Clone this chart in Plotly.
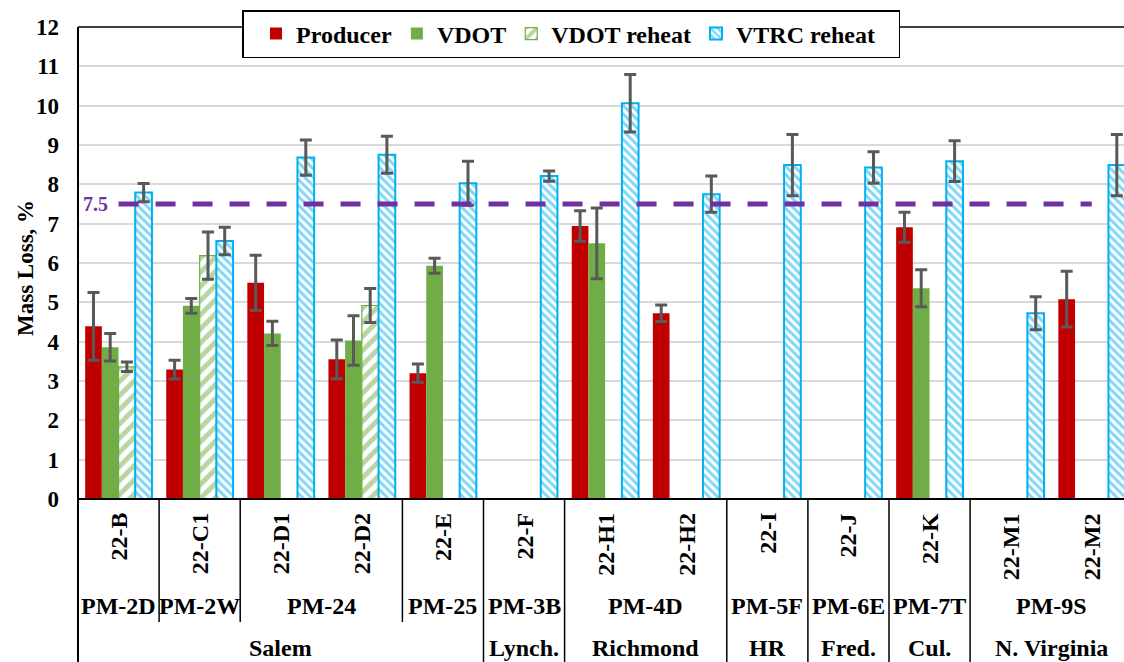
import plotly.graph_objects as go

# ---- data -------------------------------------------------------------
categories = ["22-B", "22-C1", "22-D1", "22-D2", "22-E", "22-F", "22-H1",
              "22-H2", "22-I", "22-J", "22-K", "22-M1", "22-M2"]
plant_labels = ["PM-2D", "PM-2W", "PM-24", "PM-25", "PM-3B", "PM-4D",
                "PM-5F", "PM-6E", "PM-7T", "PM-9S"]
plant_sizes = [1, 1, 2, 1, 1, 2, 1, 1, 1, 2]
region_labels = ["Salem", "Lynch.", "Richmond", "HR", "Fred.", "Cul.", "N. Virginia"]
region_sizes = [5, 1, 2, 1, 1, 1, 2]

producer = [4.39, 3.29, 5.50, 3.55, 3.20, None, 6.94, 4.72, None, None, 6.91, None, 5.08]
producer_err = [0.86, 0.24, 0.70, 0.49, 0.23, None, 0.39, 0.21, None, None, 0.38, None, 0.71]

vdot = [3.86, 4.91, 4.21, 4.03, 5.93, None, 6.50, None, None, None, 5.36, None, None]
vdot_err = [0.35, 0.19, 0.31, 0.63, 0.19, None, 0.90, None, None, None, 0.47, None, None]

vdot_reheat = [3.36, 6.19, None, 4.92, None, None, None, None, None, None, None, None, None]
vdot_reheat_err = [0.12, 0.60, None, 0.43, None, None, None, None, None, None, None, None, None]

vtrc_reheat = [7.79, 6.56, 8.68, 8.75, 8.03, 8.21, 10.06, 7.75, 8.49, 8.43, 8.59, 4.72, 8.49]
vtrc_reheat_err = [0.23, 0.35, 0.45, 0.47, 0.56, 0.13, 0.73, 0.46, 0.78, 0.40, 0.52, 0.42, 0.78]

threshold = 7.5

# ---- style ------------------------------------------------------------
FONT = "Liberation Serif"
RED = "#C00000"
GREEN = "#70AD47"
BLUE = "#00B0F0"
PURPLE = "#7030A0"
ERR = "#595959"
GRID = "#D9D9D9"

W, H = 1124, 662
ML, MT, MB, MR = 78, 27, 163, 0
PLOT_H = H - MT - MB
CAT_W = 81.1                      # px per category
X_MAX = -0.5 + (W - ML - MR) / CAT_W
NBSP = "\u00a0"


def paper_y(px):
    """Pixel row (from top of figure) -> paper y coordinate."""
    return (H - MB - px) / PLOT_H


def err(values):
    return dict(type="data", array=[v if v is not None else 0 for v in values],
                color=ERR, thickness=3, width=6, visible=True)


xs = list(range(len(categories)))

fig = go.Figure()
fig.add_trace(go.Bar(x=xs, y=producer, name="Producer",
                     marker=dict(color=RED, line=dict(width=0)),
                     error_y=err(producer_err)))
fig.add_trace(go.Bar(x=xs, y=vdot, name="VDOT",
                     marker=dict(color=GREEN, line=dict(width=0)),
                     error_y=err(vdot_err)))
fig.add_trace(go.Bar(x=xs, y=vdot_reheat, name="VDOT reheat",
                     marker=dict(color="white", line=dict(color=GREEN, width=1.2),
                                 pattern=dict(shape="/", fgcolor=GREEN, bgcolor="white",
                                              size=10, solidity=0.5)),
                     error_y=err(vdot_reheat_err)))
fig.add_trace(go.Bar(x=xs, y=vtrc_reheat, name="VTRC reheat" + NBSP * 3,
                     marker=dict(color="white", line=dict(color=BLUE, width=2),
                                 pattern=dict(shape="\\", fgcolor=BLUE, bgcolor="white",
                                              size=6, solidity=0.5)),
                     error_y=err(vtrc_reheat_err)))

# 7.5 % limit line
fig.add_trace(go.Scatter(x=xs, y=[threshold] * len(xs), mode="lines",
                         line=dict(color=PURPLE, width=5, dash="20px,17px"),
                         showlegend=False, hoverinfo="skip"))

annotations = [
    dict(x=0, y=threshold, xref="x", yref="y", text=f"<b>{threshold:g}</b>",
         showarrow=False, xanchor="right", yanchor="middle", xshift=-9,
         font=dict(family=FONT, size=20, color=PURPLE)),
    dict(x=(25 - ML) / (W - ML - MR), y=paper_y(268), xref="paper", yref="paper",
         text="<b>Mass Loss, %</b>", textangle=-90, showarrow=False,
         xanchor="center", yanchor="middle",
         font=dict(family=FONT, size=23, color="black")),
]

# sample labels (rotated)
for i, c in enumerate(categories):
    annotations.append(dict(x=i, y=paper_y(511), xref="x", yref="paper",
                            text=f"<b>{c}</b>", textangle=-90, showarrow=False,
                            xanchor="center", yanchor="top",
                            font=dict(family=FONT, size=24, color="black")))

shapes = []


def group_row(labels, sizes, row_px):
    start = 0
    bounds = []
    for lab, n in zip(labels, sizes):
        centre = start + (n - 1) / 2
        annotations.append(dict(x=centre, y=paper_y(row_px), xref="x", yref="paper",
                                text=f"<b>{lab}</b>", showarrow=False,
                                xanchor="center", yanchor="middle",
                                font=dict(family=FONT, size=24, color="black")))
        start += n
        bounds.append(start)
    return bounds[:-1]


plant_bounds = group_row(plant_labels, plant_sizes, 606)
region_bounds = group_row(region_labels, region_sizes, 648)

line_black = dict(color="black", width=1.5)
for b in region_bounds:
    shapes.append(dict(type="line", xref="x", yref="paper", x0=b - 0.5, x1=b - 0.5,
                       y0=0, y1=paper_y(H + 2), line=line_black))
for b in plant_bounds:
    if b not in region_bounds:
        shapes.append(dict(type="line", xref="x", yref="paper", x0=b - 0.5, x1=b - 0.5,
                           y0=0, y1=paper_y(622), line=line_black))

# frame: top edge, left edge running through the label rows, bottom axis
shapes.append(dict(type="line", xref="paper", yref="paper", x0=0, x1=1.01, y0=1, y1=1,
                   line=dict(color="black", width=1.5)))
shapes.append(dict(type="line", xref="paper", yref="paper", x0=0, x1=0, y0=1,
                   y1=paper_y(H + 2), line=dict(color="black", width=2)))
shapes.append(dict(type="line", xref="paper", yref="paper", x0=0, x1=1.01, y0=0, y1=0,
                   line=dict(color="black", width=2)))

fig.update_layout(
    width=W, height=H,
    margin=dict(l=ML, r=MR, t=MT, b=MB, pad=0, autoexpand=False),
    paper_bgcolor="white", plot_bgcolor="white",
    barmode="group", bargap=0.176, bargroupgap=0,
    font=dict(family=FONT, color="black"),
    showlegend=True,
    legend=dict(orientation="h", x=(242 - ML) / (W - ML - MR), xanchor="left",
                y=paper_y(10), yanchor="top",
                title=dict(text=NBSP, side="left",
                           font=dict(family=FONT, size=10)),
                font=dict(family=FONT, size=24, color="black", weight="bold"),
                bgcolor="white", bordercolor="black", borderwidth=1.5,
                traceorder="normal"),
    xaxis=dict(range=[-0.5, X_MAX], showticklabels=False, showgrid=False,
               zeroline=False, showline=False, ticks=""),
    yaxis=dict(range=[0, 12], dtick=1, tick0=0, showgrid=True, gridcolor=GRID,
               gridwidth=1.5, zeroline=False, showline=False, ticks="",
               ticklabelstandoff=18,
               tickfont=dict(family=FONT, size=23, color="black", weight="bold")),
    annotations=annotations,
    shapes=shapes,
)

fig.write_html("out.html")
